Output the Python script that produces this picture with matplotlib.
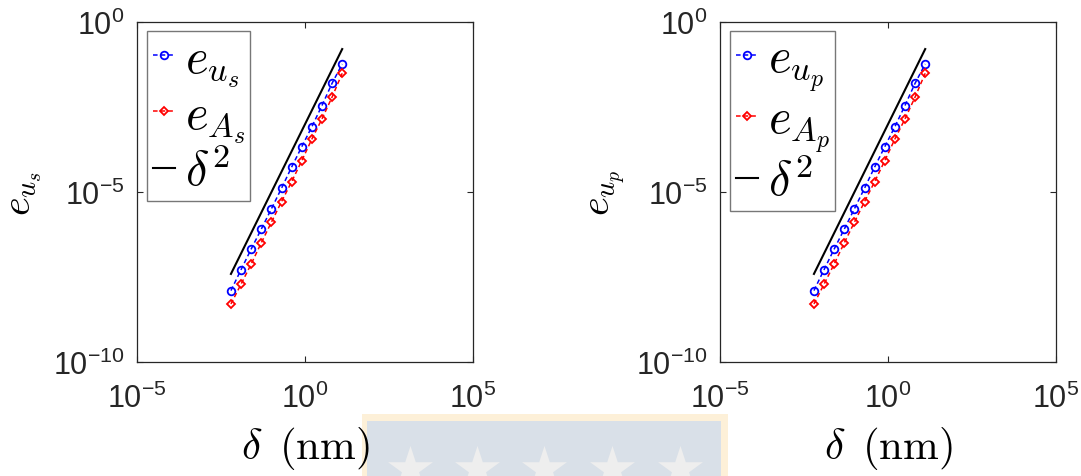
import matplotlib
matplotlib.use("Agg")
import matplotlib.pyplot as plt
from matplotlib.patches import Rectangle

plt.rcParams["font.family"] = ["Liberation Sans", "DejaVu Sans"]
plt.rcParams["mathtext.fontset"] = "cm"
plt.rcParams["axes.unicode_minus"] = False

# grid size delta (nm), halved at each refinement
delta = [0.00625, 0.0125, 0.025, 0.05, 0.1, 0.2, 0.4, 0.8, 1.6, 3.2, 6.4, 12.8]

# errors (s and p panels look the same)
e_us = [1.26e-8, 5.2e-8, 2.1e-7, 8.1e-7, 3.2e-6, 1.29e-5,
        5.4e-5, 2.14e-4, 8.3e-4, 3.5e-3, 1.58e-2, 5.8e-2]
e_As = [5.1e-9, 1.95e-8, 7.6e-8, 3.2e-7, 1.29e-6, 5.2e-6,
        2.0e-5, 8.3e-5, 3.6e-4, 1.41e-3, 6.2e-3, 3.1e-2]
e_up = [1.26e-8, 5.2e-8, 2.1e-7, 8.1e-7, 3.2e-6, 1.29e-5,
        5.4e-5, 2.14e-4, 8.3e-4, 3.5e-3, 1.58e-2, 5.8e-2]
e_Ap = [5.1e-9, 1.95e-8, 7.6e-8, 3.2e-7, 1.29e-6, 5.2e-6,
        2.0e-5, 8.3e-5, 3.6e-4, 1.41e-3, 6.2e-3, 3.1e-2]

# reference slope-2 line, end points
ref_x = [0.00625, 12.8]
ref_y = [3.9e-8, 1.6e-1]

panels = [
    (e_us, e_As, r"$e_{u_s}$", r"$e_{A_s}$"),
    (e_up, e_Ap, r"$e_{u_p}$", r"$e_{A_p}$"),
]
lefts = [137 / 1081, 720 / 1081]

fig = plt.figure(figsize=(10.81, 4.77), dpi=100)

# background stamp at the bottom
bg = fig.add_axes([0, 0, 1, 1], zorder=-1)
bg.set_xlim(0, 1081)
bg.set_ylim(477, 0)
bg.axis("off")
bg.add_patch(Rectangle((362, 415), 366, 70, facecolor="#fdf0d8", edgecolor="none"))
bg.add_patch(Rectangle((367, 422), 354, 60, facecolor="#d9e0e8", edgecolor="none"))
bg.scatter([410, 477, 544, 612, 680], [470, 470, 470, 470, 470], marker="*",
           s=1150, color="#eeeeee", linewidths=0)

for (eu, ea, ulab, alab), left in zip(panels, lefts):
    ax = fig.add_axes([left, 114 / 477, 336 / 1081, 340 / 477])
    ax.loglog(delta, eu, "--o", color="b", mfc="none", ms=5.5, mew=1.3, lw=1.1,
              dashes=(3, 2), label=ulab)
    ax.loglog(delta, ea, "--D", color="r", mfc="none", ms=4.5, mew=1.3, lw=1.1,
              dashes=(3, 2), label=alab)
    ax.loglog(ref_x, ref_y, "-", color="k", lw=1.5, label=r"$\delta^2$")

    ax.set_xlim(1e-5, 1e5)
    ax.set_ylim(1e-10, 1e0)
    ax.set_xticks([1e-5, 1e0, 1e5])
    ax.set_yticks([1e-10, 1e-5, 1e0])
    ax.minorticks_off()
    ax.tick_params(direction="in", length=4, width=0.8, top=True, right=True,
                   labelsize=22, colors="#262626")
    ax.tick_params(axis="x", pad=15)
    ax.tick_params(axis="y", pad=9)
    for sp in ax.spines.values():
        sp.set_color("#262626")
        sp.set_linewidth(0.9)

    ax.set_xlabel(r"$\delta\ \,(\mathrm{nm})$", fontsize=31, labelpad=7)
    ax.set_ylabel(ulab, fontsize=29, labelpad=6)

    leg = ax.legend(loc="upper left", bbox_to_anchor=(0.03, 0.974), borderaxespad=0,
                    fontsize=35, handlelength=0.45, handletextpad=0.2,
                    labelspacing=0.1, borderpad=0.12, numpoints=1, fancybox=False)
    leg.get_frame().set_edgecolor("#555555")
    leg.get_frame().set_linewidth(1.0)

fig.savefig("out.png", dpi=100)
